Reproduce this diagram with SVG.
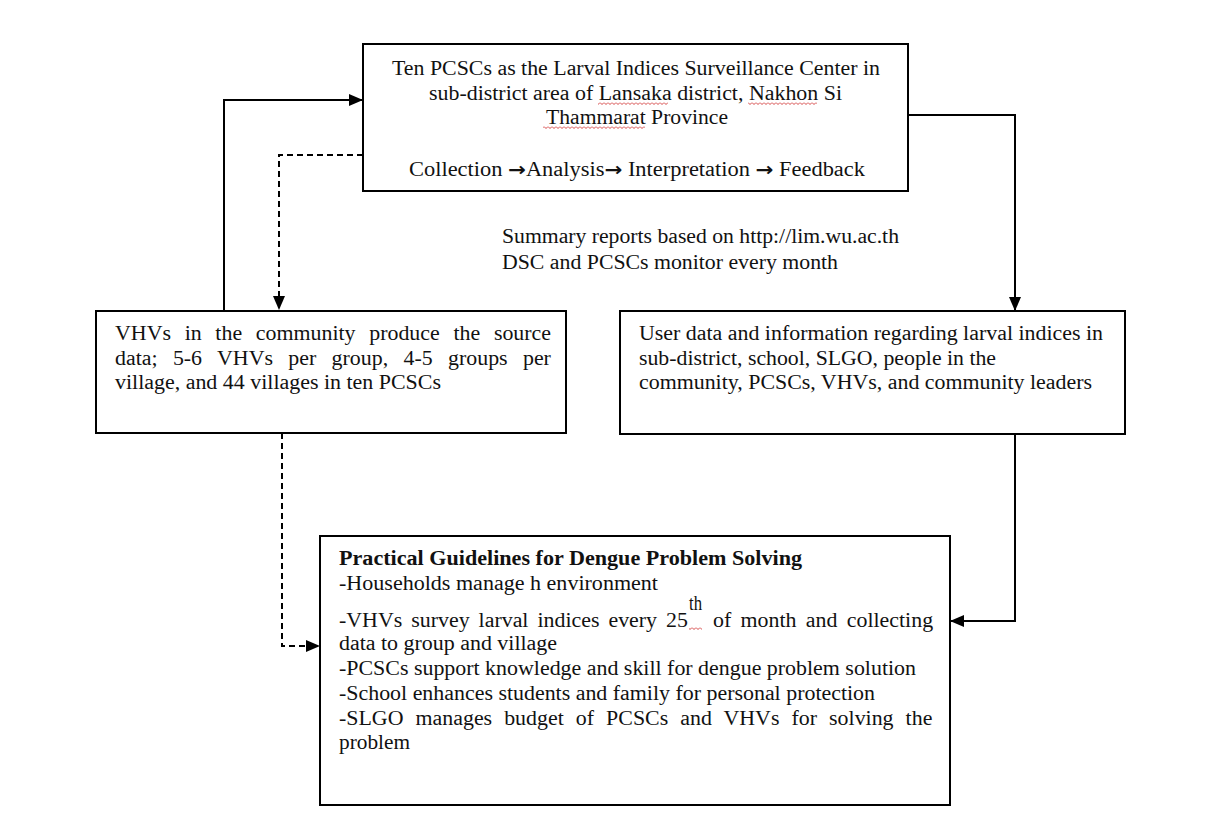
<svg xmlns="http://www.w3.org/2000/svg" width="1207" height="824" viewBox="0 0 1207 824">
<defs>
<marker id="ah" markerUnits="userSpaceOnUse" markerWidth="14" markerHeight="12" refX="13" refY="6" orient="auto">
<path d="M0,0 L14,6 L0,12 Z" fill="#000"/>
</marker>
<pattern id="wave" patternUnits="userSpaceOnUse" width="4" height="3">
<path d="M0,0.5 L2,2.5 L4,0.5" fill="none" stroke="#d03030" stroke-width="0.9"/>
</pattern>
<style>
.box{fill:#fff;stroke:#000;stroke-width:2}
.t{font-family:"Liberation Serif","Times New Roman",serif;font-size:20px;fill:#111}
.b{font-weight:bold}
.ar{font-family:"DejaVu Sans",sans-serif;font-size:19px;font-weight:bold}
.c{fill:none;stroke:#000;stroke-width:2}
.d{stroke-dasharray:6,4}
</style>
</defs>
<rect width="1207" height="824" fill="#fff"/>
<g id="connectors">
<path class="c" d="M224,311 V100 H362" marker-end="url(#ah)"/>
<path class="c d" d="M363,155 H279 V309" marker-end="url(#ah)"/>
<path class="c" d="M908,115 H1015 V310" marker-end="url(#ah)"/>
<path class="c d" d="M282,433 V646 H319" marker-end="url(#ah)"/>
<path class="c" d="M1015,435 V621 H951" marker-end="url(#ah)"/>
</g>
<g id="center">
<rect class="box" x="363" y="44" width="545" height="147"/>
<text class="t" x="392" y="75" textLength="488" lengthAdjust="spacingAndGlyphs">Ten PCSCs as the Larval Indices Surveillance Center in</text>
<text class="t" x="429" y="100" textLength="413" lengthAdjust="spacingAndGlyphs">sub-district area of Lansaka district, Nakhon Si</text>
<text class="t" x="546" y="124" textLength="182" lengthAdjust="spacingAndGlyphs">Thammarat Province</text>
<text class="t" x="409" y="176" textLength="456" lengthAdjust="spacingAndGlyphs">Collection <tspan class="ar">→</tspan>Analysis<tspan class="ar">→</tspan> Interpretation <tspan class="ar">→</tspan> Feedback</text>
<rect x="598" y="102" width="70" height="3" fill="url(#wave)"/>
<rect x="748" y="102" width="69" height="3" fill="url(#wave)"/>
<rect x="543" y="126" width="102" height="3" fill="url(#wave)"/>
</g>
<g id="summary">
<text class="t" x="502" y="243" textLength="397" lengthAdjust="spacingAndGlyphs">Summary reports based on http://lim.wu.ac.th</text>
<text class="t" x="502" y="269" textLength="336" lengthAdjust="spacingAndGlyphs">DSC and PCSCs monitor every month</text>
</g>
<g id="vhvs">
<rect class="box" x="96" y="311" width="470" height="122"/>
<text class="t" transform="translate(115,340) scale(1.095,1)" word-spacing="7.5">VHVs in the community produce the source</text>
<text class="t" transform="translate(115,365) scale(1.095,1)" word-spacing="9">data; 5-6 VHVs per group, 4-5 groups per</text>
<text class="t" x="115" y="389" textLength="326" lengthAdjust="spacingAndGlyphs">village, and 44 villages in ten PCSCs</text>
</g>
<g id="users">
<rect class="box" x="620" y="311" width="505" height="123"/>
<text class="t" x="639" y="340" textLength="464" lengthAdjust="spacingAndGlyphs">User data and information regarding larval indices in</text>
<text class="t" x="639" y="365" textLength="357" lengthAdjust="spacingAndGlyphs">sub-district, school, SLGO, people in the</text>
<text class="t" x="639" y="389" textLength="453" lengthAdjust="spacingAndGlyphs">community, PCSCs, VHVs, and community leaders</text>
</g>
<g id="guidelines">
<rect class="box" x="320" y="536" width="630" height="269"/>
<text class="t b" x="339" y="565" textLength="463" lengthAdjust="spacingAndGlyphs">Practical Guidelines for Dengue Problem Solving</text>
<text class="t" x="339" y="590" textLength="319" lengthAdjust="spacingAndGlyphs">-Households manage h environment</text>
<text class="t" transform="translate(339,627) scale(1.095,1)" word-spacing="3.2">-VHVs survey larval indices every 25</text>
<text class="t" x="689" y="610" font-size="12" textLength="13" lengthAdjust="spacingAndGlyphs">th</text>
<rect x="689" y="627" width="13" height="3" fill="url(#wave)"/>
<text class="t" transform="translate(713,627) scale(1.095,1)" word-spacing="3.5">of month and collecting</text>
<text class="t" x="339" y="650" textLength="218" lengthAdjust="spacingAndGlyphs">data to group and village</text>
<text class="t" x="339" y="675" textLength="577" lengthAdjust="spacingAndGlyphs">-PCSCs support knowledge and skill for dengue problem solution</text>
<text class="t" x="339" y="700" textLength="536" lengthAdjust="spacingAndGlyphs">-School enhances students and family for personal protection</text>
<text class="t" transform="translate(339,725) scale(1.095,1)" word-spacing="6">-SLGO manages budget of PCSCs and VHVs for solving the</text>
<text class="t" x="339" y="749" textLength="71" lengthAdjust="spacingAndGlyphs">problem</text>
</g>
</svg>
